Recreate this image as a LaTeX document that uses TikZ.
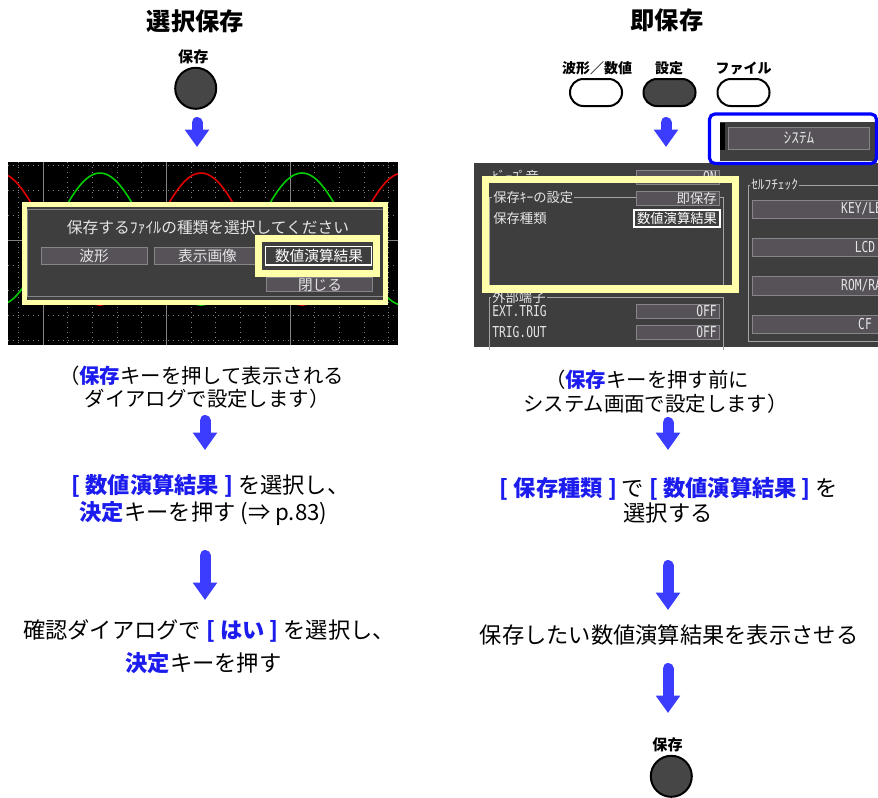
\documentclass[tikz,border=0pt]{standalone}
\usepackage{fontspec}
\setmainfont{Noto Sans CJK JP}
\newfontfamily\scrlatin[FakeStretch=0.75]{DejaVu Sans Mono}
\usetikzlibrary{arrows.meta}

\definecolor{scrgray}{RGB}{62,62,62}
\definecolor{btnfill}{RGB}{86,82,88}
\definecolor{btnedge}{RGB}{135,132,138}
\definecolor{grpedge}{RGB}{165,165,165}
\definecolor{scrtext}{RGB}{228,228,228}
\definecolor{hiyellow}{RGB}{255,255,170}
\definecolor{arrowblue}{RGB}{60,60,255}
\definecolor{txtblue}{RGB}{28,28,238}
\definecolor{framblue}{RGB}{0,0,255}
\definecolor{keygray}{RGB}{70,70,70}
\definecolor{gridgray}{RGB}{130,130,130}
\definecolor{wavered}{RGB}{225,0,0}
\definecolor{wavegreen}{RGB}{0,205,0}

\newcommand{\bluekey}[1]{{\bfseries\color{txtblue}#1}}

\begin{document}
\begin{tikzpicture}[x=0.75pt,y=-0.75pt,
  every node/.style={inner sep=0pt},
  flowarrow/.style={draw=arrowblue,line width=8.25pt,line cap=round,
    -{Triangle[length=13pt,width=17.5pt]}},
  keyround/.style={circle,draw=black,line width=1.5pt,fill=keygray,minimum size=30.75pt},
  keyoval/.style={rectangle,draw=black,line width=1.5pt,rounded corners=10pt,
    minimum width=39pt,minimum height=20.25pt},
  title/.style={font=\bfseries\fontsize{18.2}{21}\selectfont},
  keylabel/.style={font=\bfseries\fontsize{11.3}{13}\selectfont},
  keylabelR/.style={font=\bfseries\fontsize{10.5}{12}\selectfont},
  note/.style={font=\fontsize{15.3}{18}\selectfont},
  stepline/.style={font=\fontsize{16.7}{20}\selectfont},
  dlgtext/.style={text=scrtext,font=\fontsize{11.8}{13}\selectfont},
  btntext/.style={text=scrtext,font=\fontsize{11}{13}\selectfont},
  scrtext/.style={text=scrtext,font=\fontsize{10}{12}\selectfont},
  scrlat/.style={text=scrtext,font=\scrlatin\fontsize{11.3}{13}\selectfont},
  scrbtn/.style={fill=btnfill,draw=btnedge,line width=0.75pt},
  selbtn/.style={fill=scrgray,draw=white,line width=1.1pt},
  grpline/.style={draw=grpedge,line width=0.75pt},
  hilite/.style={draw=hiyellow},
  griddot/.style={gridgray,line width=0.75pt,dash pattern=on 0.75pt off 3pt},
  gridline/.style={gridgray,line width=0.75pt}]
  \useasboundingbox (0,0) rectangle (878,797);
  \begin{scope}
  \clip (0,0) rectangle (878,797);
  % left column: select save
  \node[title] (titleL) at (195.5,21.7) {選択保存};
  \node[keylabel] (keyLlbl) at (193.3,56.7) {保存};
  \node[keyround] (keyL) at (195.7,88.3) {};
  % oscilloscope screen
  \begin{scope}
    \clip (8,162) rectangle (398,345);
    \fill[black] (8,162) rectangle (398,345);
    \foreach \k in {0,...,15}
      \draw[griddot] ({18.3+24.7*\k},162) -- ({18.3+24.7*\k},345);
    \foreach \gy in {165,190,215,265,290,315,340}
      \draw[griddot] (8,\gy) -- (398,\gy);
    \foreach \gx in {43,166.5,290}
      \draw[gridline] (\gx,162) -- (\gx,345);
    \draw[gridline] (8,240) -- (398,240);
    \draw[wavered,line width=1.2pt] plot[domain=8:398,samples=160]
      (\x,{239+66*cos((\x-100)*1.7822)});
    \draw[wavegreen,line width=1.2pt] plot[domain=8:398,samples=160]
      (\x,{239-66*cos((\x-100)*1.7822)});
  \end{scope}
  % save dialog
  \fill[scrgray] (24,204) rectangle (386,302.5);
  \draw[btnedge,line width=0.75pt] (27,209.3) rectangle (384,296.7);
  \node[dlgtext] (dlgmsg) at (208,228) {保存するﾌｧｲﾙの種類を選択してください};
  \draw[scrbtn] (41,247) rectangle (147,264);
  \node[btntext] (btnwave) at (94,255.5) {波形};
  \draw[scrbtn] (154,247) rectangle (262,264);
  \node[btntext] (btnimage) at (207.5,255.5) {表示画像};
  \draw[scrbtn] (266.7,277.7) rectangle (372.3,291.7);
  \node[btntext] (btnclose) at (320,285) {閉じる};
  \draw[hilite,line width=4.9pt,fill=scrgray] (258.5,238.3) rectangle (376.7,273.3);
  \draw[selbtn] (265.7,246.7) rectangle (371.7,265);
  \node[btntext,text=white] (btncalc) at (319,256) {数値演算結果};
  \draw[hilite,line width=3.75pt] (24.2,204.2) rectangle (385.8,302.5);
  % left notes
  \node[note] (noteL1) at (201.5,375.3) {（\bluekey{保存}キーを押して表示される};
  \node[note] (noteL2) at (207,398.3) {ダイアログで設定します）};
  \node[stepline] (stepL1) at (210.5,485.7) {\bluekey{[ 数値演算結果 ]} を選択し、};
  \node[stepline] (stepL2) at (203.5,513.3) {\bluekey{決定}キーを押す (⇒ p.83)};
  \node[stepline] (stepL3) at (209,631.3) {確認ダイアログで \bluekey{[ はい ]} を選択し、};
  \node[stepline] (stepL4) at (203.5,663.3) {\bluekey{決定}キーを押す};
  % right column: instant save
  \node[title] (titleR) at (667,20.5) {即保存};
  \node[keylabelR] (lblwave) at (597,68.3) {波形／数値};
  \node[keylabelR] (lblset) at (669,68.3) {設定};
  \node[keylabelR] (lblfile) at (743.5,68.3) {ファイル};
  \node[keyoval,fill=white] (keywave) at (596,92.5) {};
  \node[keyoval,fill=keygray] (keyset) at (669.5,92.5) {};
  \node[keyoval,fill=white] (keyfile) at (743.5,92.5) {};
  % system setting screen
  \fill[scrgray] (474,163) rectangle (878,347);
  \node[scrtext,anchor=west] (rowbeep) at (492,176.5) {ﾋﾞｰﾌﾟ音};
  \draw[scrbtn] (636,170) rectangle (719,184);
  \node[scrlat,anchor=east] (valbeep) at (717,177) {ON};
  \draw[grpline] (574,197.5) -- (636,197.5) (719,197.5) -- (723,197.5) -- (723,285)
    -- (489.5,285) -- (489.5,197.5) -- (492,197.5);
  \node[scrtext,anchor=west] (rowkey) at (493,197.5) {保存ｷｰの設定};
  \draw[scrbtn] (636,191) rectangle (719,205);
  \node[scrtext,anchor=east] (valkey) at (717,198) {即保存};
  \node[scrtext,anchor=west] (rowtype) at (493,218) {保存種類};
  \draw[selbtn] (634,210) rectangle (720,227);
  \node[scrtext,text=white] (valtype) at (677,218.5) {数値演算結果};
  \draw[grpline] (547,297) -- (723,297) -- (723,350) (489.5,350) -- (489.5,297) -- (491,297);
  \node[scrtext,anchor=west] (grpext) at (492,297) {外部端子};
  \node[scrlat,anchor=west] (rowtrig) at (492,311) {EXT.TRIG};
  \draw[scrbtn] (636,304) rectangle (719,318);
  \node[scrlat,anchor=east] (valtrig) at (717,311) {OFF};
  \node[scrlat,anchor=west] (rowout) at (492,332) {TRIG.OUT};
  \draw[scrbtn] (636,325) rectangle (719,339);
  \node[scrlat,anchor=east] (valout) at (717,332) {OFF};
  \draw[hilite,line width=5.6pt] (485.5,179.7) rectangle (735.5,289.2);
  % self check group
  \draw[grpline] (799,185) -- (880,185) (750,185) -- (748,185) -- (748,341.7) -- (880,341.7);
  \node[scrtext,anchor=west] (grpself) at (751,185) {ｾﾙﾌﾁｪｯｸ};
  \draw[scrbtn] (752,200) rectangle (980,218.3);
  \node[scrlat] (chkkey) at (865,208.3) {KEY/LED};
  \draw[scrbtn] (752,238.3) rectangle (980,256.7);
  \node[scrlat] (chklcd) at (865,247.5) {LCD};
  \draw[scrbtn] (752,276.7) rectangle (980,295);
  \node[scrlat] (chkrom) at (865,286) {ROM/RAM};
  \draw[scrbtn] (752,315) rectangle (980,333.3);
  \node[scrlat] (chkcf) at (865,324.3) {CF};
  % system tab
  \fill[scrgray] (720,122) rectangle (875,161);
  \fill[black] (720,123) rectangle (725,150);
  \draw[scrbtn] (728,127) rectangle (869,149);
  \node[scrtext,font=\fontsize{11.5}{13}\selectfont] (tabsys) at (799,138) {ｼｽﾃﾑ};
  \draw[framblue,line width=2.4pt,rounded corners=4pt] (709.5,114) rectangle (876.5,163.5);
  % right notes
  \node[note] (noteR1) at (647,380) {（\bluekey{保存}キーを押す前に};
  \node[note] (noteR2) at (655.5,403.3) {システム画面で設定します）};
  \node[stepline] (stepR1) at (669,488.3) {\bluekey{[ 保存種類 ]} で \bluekey{[ 数値演算結果 ]} を};
  \node[stepline] (stepR2) at (668,513.3) {選択する};
  \node[stepline] (stepR3) at (669,635) {保存したい数値演算結果を表示させる};
  \node[keylabel] (keyR2lbl) at (667.5,744.5) {保存};
  \node[keyround] (keyR2) at (671.3,776.3) {};
  % flow arrows
  \coordinate (arrL1top) at (197,122.5);  \coordinate (arrL1tip) at (197,147);
  \coordinate (arrL2top) at (205,420.5);  \coordinate (arrL2tip) at (205,450);
  \coordinate (arrL3top) at (205,555.5);  \coordinate (arrL3tip) at (205,600);
  \coordinate (arrR1top) at (666,122.5);  \coordinate (arrR1tip) at (666,147);
  \coordinate (arrR2top) at (668,422.5);  \coordinate (arrR2tip) at (668,450);
  \coordinate (arrR3top) at (668,565.5);  \coordinate (arrR3tip) at (668,610);
  \coordinate (arrR4top) at (668,668.5);  \coordinate (arrR4tip) at (668,713);
  \foreach \a in {L1,L2,L3,R1,R2,R3,R4}
    \draw[flowarrow] (arr\a top) -- (arr\a tip);
  \end{scope}
\end{tikzpicture}
\end{document}
